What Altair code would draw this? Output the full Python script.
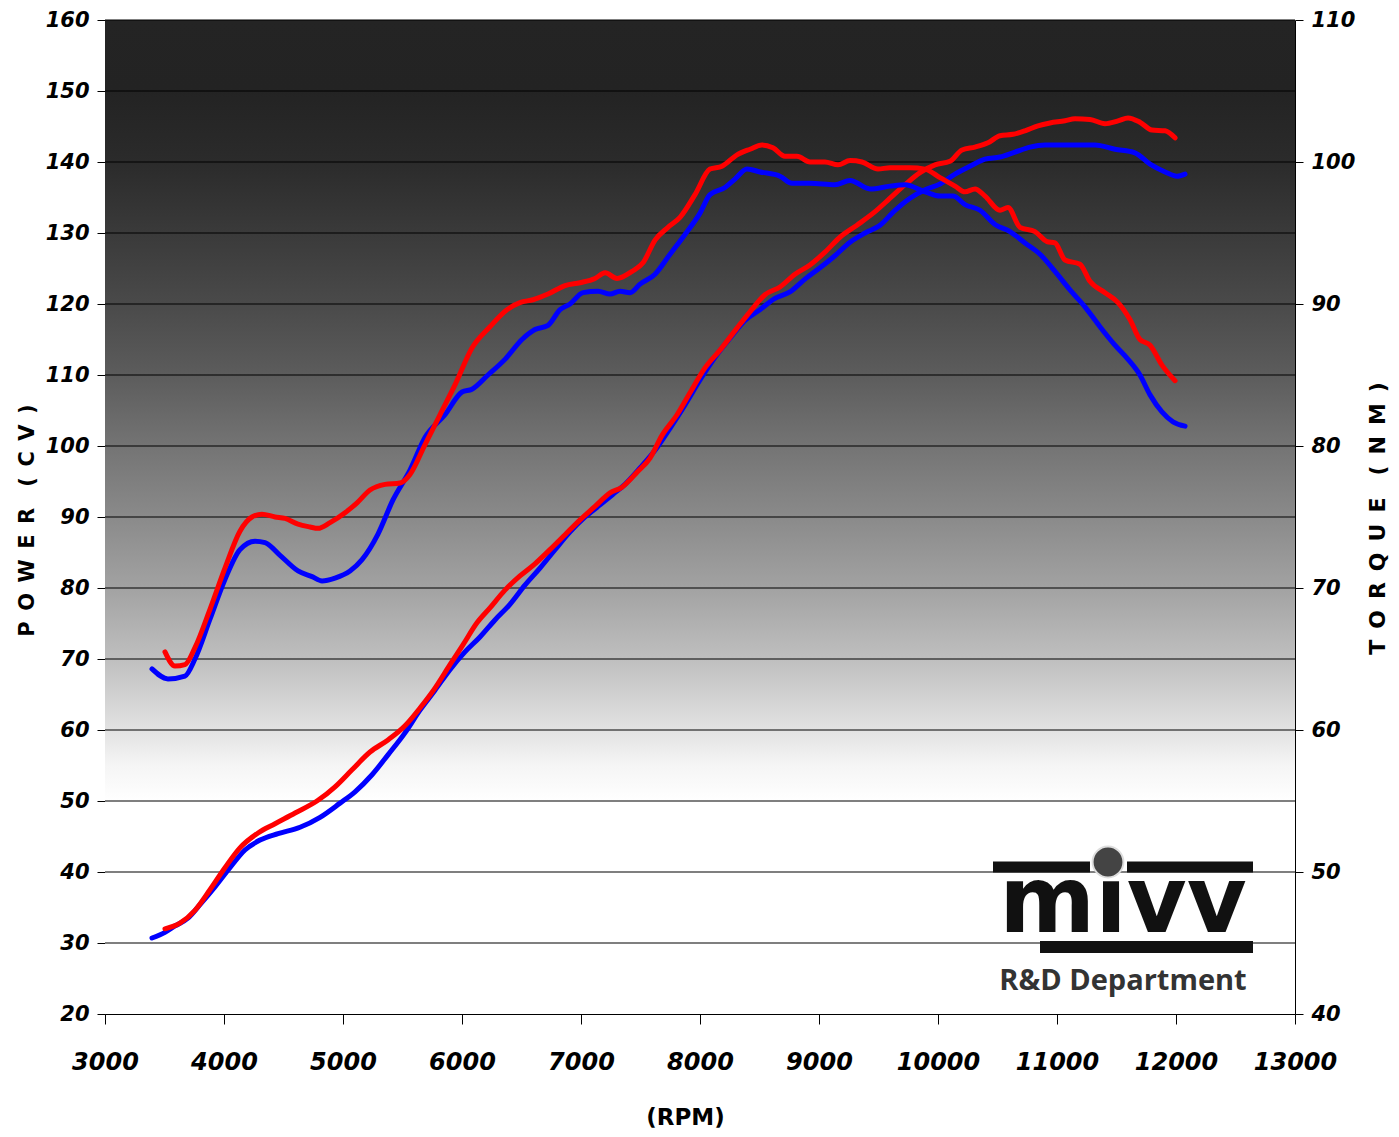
import altair as alt
import pandas as pd

# ---------------- data ----------------
# Torque, blue run (Nm)
tq_blue_rpm = [3395, 3529, 3672, 3756, 3882, 4008, 4134, 4261, 4345, 4471, 4622, 4740, 4824, 4933,
               5059, 5160, 5294, 5420, 5563, 5689, 5857, 6000, 6084, 6218, 6361, 6504, 6613, 6723,
               6824, 6908, 7017, 7143, 7244, 7328, 7412, 7496, 7622, 7748, 7874, 8000, 8084, 8210,
               8294, 8395, 8504, 8672, 8773, 8924, 9134, 9261, 9429, 9597, 9723, 9891, 10017, 10126,
               10227, 10353, 10479, 10605, 10731, 10857, 10983, 11109, 11235, 11361, 11487, 11597,
               11697, 11782, 11882, 11975, 12076]
tq_blue_nm = [64.3, 63.6, 63.8, 65.0, 67.8, 70.6, 72.7, 73.3, 73.2, 72.3, 71.2, 70.8, 70.5, 70.7,
              71.2, 72.0, 73.8, 76.2, 78.3, 80.6, 82.2, 83.8, 84.0, 85.0, 86.1, 87.5, 88.2, 88.5,
              89.6, 90.0, 90.8, 90.9, 90.7, 90.9, 90.8, 91.4, 92.1, 93.5, 94.9, 96.4, 97.7, 98.2,
              98.8, 99.5, 99.3, 99.0, 98.5, 98.5, 98.4, 98.7, 98.1, 98.3, 98.4, 97.9, 97.6, 97.6,
              97.0, 96.6, 95.6, 95.1, 94.3, 93.5, 92.3, 91.0, 89.8, 88.4, 87.1, 86.1,
              85.0, 83.6, 82.4, 81.7, 81.4]

# Torque, red run (Nm)
tq_red_rpm = [3504, 3588, 3672, 3756, 3882, 4008, 4134, 4235, 4319, 4429, 4513, 4622, 4723, 4790,
              4891, 5017, 5118, 5227, 5353, 5479, 5563, 5689, 5815, 5941, 6084, 6235, 6378, 6487,
              6597, 6723, 6866, 6992, 7118, 7202, 7303, 7429, 7521, 7622, 7731, 7832, 7958, 8084,
              8185, 8311, 8420, 8521, 8613, 8714, 8815, 8924, 9050, 9160, 9261, 9361, 9496, 9597,
              9765, 9891, 10017, 10143, 10227, 10311, 10395, 10521, 10588, 10689, 10815, 10916,
              10983, 11067, 11193, 11277, 11403, 11513, 11613, 11697, 11782, 11882, 11992]
tq_red_nm = [65.5, 64.5, 64.6, 65.8, 68.5, 71.4, 74.0, 75.0, 75.2, 75.0, 74.9, 74.5, 74.3, 74.2,
             74.6, 75.3, 76.0, 76.9, 77.3, 77.4, 78.0, 80.1, 82.2, 84.3, 86.9, 88.4, 89.6, 90.1,
             90.3, 90.7, 91.3, 91.5, 91.8, 92.2, 91.8, 92.3, 92.9, 94.5, 95.4, 96.1, 97.7, 99.5,
             99.7, 100.5, 100.9, 101.2, 101.0, 100.4, 100.4, 100.0, 100.0, 99.8, 100.1, 100.0, 99.5, 99.6,
             99.6, 99.5, 98.9, 98.3, 97.9, 98.1, 97.6, 96.6, 96.8, 95.4, 95.1, 94.4,
             94.3, 93.1, 92.8, 91.6, 90.8, 90.1, 88.9, 87.5, 87.1, 85.7, 84.6]

# Power, blue run (CV)
pw_blue_rpm = [3395, 3504, 3588, 3697, 3798, 3924, 4050, 4176, 4303, 4454, 4639, 4807, 4975, 5101,
               5244, 5378, 5521, 5647, 5773, 5899, 6025, 6151, 6277, 6403, 6529, 6655, 6782, 6908,
               7034, 7160, 7269, 7370, 7496, 7622, 7748, 7874, 8000, 8126, 8252, 8378, 8504, 8630,
               8756, 8882, 9008, 9134, 9261, 9387, 9513, 9639, 9765, 9891, 10017, 10143, 10269,
               10395, 10521, 10647, 10773, 10899, 11109, 11319, 11487, 11655, 11782, 11908, 12008, 12076]
pw_blue_cv = [30.7, 31.5, 32.4, 33.5, 35.4, 37.9, 40.6, 43.1, 44.5, 45.4, 46.3, 47.7, 49.7, 51.3,
              53.7, 56.5, 59.6, 62.8, 65.6, 68.5, 71.0, 73.1, 75.5, 77.7, 80.4, 82.8, 85.4, 87.9,
              90.0, 91.7, 93.2, 94.6, 96.9, 99.4, 102.5, 105.8, 109.3, 112.5, 115.2, 117.7, 119.2, 120.8,
              121.7, 123.5, 125.1, 126.8, 128.7, 130.0, 131.1, 133.2, 134.9, 136.1, 136.9, 138.3, 139.4,
              140.4, 140.7, 141.4, 142.1, 142.4, 142.4, 142.4, 141.8, 141.3, 139.7, 138.6, 138.0, 138.3]

# Power, red run (CV)
pw_red_rpm = [3504, 3630, 3756, 3882, 4008, 4134, 4286, 4429, 4597, 4790, 4933, 5076, 5227, 5378,
              5521, 5647, 5773, 5899, 6008, 6126, 6235, 6361, 6487, 6613, 6739, 6866, 6992, 7118,
              7244, 7345, 7471, 7580, 7681, 7807, 7916, 8042, 8168, 8311, 8420, 8546, 8672, 8798,
              8924, 9050, 9176, 9319, 9471, 9597, 9723, 9849, 9975, 10101, 10202, 10311, 10420,
              10521, 10630, 10731, 10840, 10941, 11067, 11151, 11277, 11403, 11513, 11597, 11697,
              11798, 11908, 11992]
pw_red_cv = [32.0, 32.8, 34.6, 37.5, 40.6, 43.4, 45.5, 46.8, 48.3, 50.1, 52.0, 54.4, 56.9, 58.6,
             60.6, 63.1, 65.9, 69.2, 72.0, 75.1, 77.2, 79.7, 81.7, 83.4, 85.4, 87.5, 89.6, 91.5,
             93.4, 94.2, 96.3, 98.3, 101.5, 104.4, 107.5, 111.0, 113.5, 116.6, 118.9, 121.3, 122.4, 124.2,
             125.5, 127.3, 129.4, 131.1, 133.0, 134.9, 136.8, 138.5, 139.6, 140.1, 141.7, 142.1, 142.7,
             143.7, 143.9, 144.4, 145.1, 145.5, 145.8, 146.1, 146.0, 145.4, 145.8, 146.2, 145.6,
             144.5, 144.4, 143.4]

rpm_ticks = list(range(3000, 13001, 1000))
power_ticks = list(range(20, 161, 10))
torque_ticks = list(range(40, 111, 10))
grid_lines = list(range(30, 161, 10))

series_names = ["Stock", "MIVV"]
series_colors = ["#0000ff", "#ff0000"]

# ---------------- tables ----------------
power_df = pd.concat([
    pd.DataFrame({"rpm": pw_blue_rpm, "power": pw_blue_cv, "run": "Stock", "curve": "power"}),
    pd.DataFrame({"rpm": pw_red_rpm, "power": pw_red_cv, "run": "MIVV", "curve": "power"}),
], ignore_index=True)
torque_df = pd.concat([
    pd.DataFrame({"rpm": tq_blue_rpm, "torque": tq_blue_nm, "run": "Stock", "curve": "torque"}),
    pd.DataFrame({"rpm": tq_red_rpm, "torque": tq_red_nm, "run": "MIVV", "curve": "torque"}),
], ignore_index=True)

W, H = 1190, 994
LABEL_FONT = "DejaVu Sans"
SP = "\u2002"

x_scale = alt.Scale(domain=[3000, 13000], nice=False, zero=False)
y_left = alt.Scale(domain=[20, 160], nice=False, zero=False)
y_right = alt.Scale(domain=[40, 110], nice=False, zero=False)
color = alt.Color("run:N", scale=alt.Scale(domain=series_names, range=series_colors), legend=None)

x_axis = alt.Axis(values=rpm_ticks, format="d", grid=False, tickSize=10, labelPadding=26,
                  labelFont=LABEL_FONT, labelFontSize=24, labelFontStyle="italic",
                  labelFontWeight="bold", labelColor="#000", domainColor="#000", tickColor="#000",
                  title="(RPM)", titleFont=LABEL_FONT, titleFontSize=23, titleFontWeight="bold",
                  titleColor="#000", titleX=580, titleY=103, titleBaseline="middle",
                  titleAlign="center", labelFlush=False)

left_axis = alt.Axis(values=power_ticks, grid=False, tickSize=8, labelPadding=8,
                     labelFont=LABEL_FONT, labelFontSize=21, labelFontStyle="italic",
                     labelFontWeight="bold", labelColor="#000", domainColor="#000", tickColor="#000",
                     title=SP.join("POWER") + SP * 2 + SP.join("(CV)"), titleFont=LABEL_FONT,
                     titleFontSize=21, titleFontWeight="bold", titleColor="#000", titleAngle=270,
                     titleX=-78, titleY=500, titleBaseline="middle", titleAlign="center")

right_axis = alt.Axis(values=torque_ticks, orient="right", grid=False, tickSize=8, labelPadding=8,
                      labelFont=LABEL_FONT, labelFontSize=21, labelFontStyle="italic",
                      labelFontWeight="bold", labelColor="#000", domainColor="#000", tickColor="#000",
                      title=SP.join("TORQUE") + SP * 2 + SP.join("(NM)"), titleFont=LABEL_FONT,
                      titleFontSize=22, titleFontWeight="bold", titleColor="#000", titleAngle=270,
                      titleX=82, titleY=498, titleBaseline="middle", titleAlign="center")

# ---------------- background gradient ----------------
bg_df = pd.DataFrame({"x0": [3000], "x1": [13000], "y0": [20], "y1": [160]})
gradient = alt.Gradient(
    gradient="linear", x1=0, y1=0, x2=0, y2=1,
    stops=[
        alt.GradientStop(offset=0.0, color="#242424"),
        alt.GradientStop(offset=0.07, color="#232323"),
        alt.GradientStop(offset=0.143, color="#2b2b2b"),
        alt.GradientStop(offset=0.214, color="#3a3a3a"),
        alt.GradientStop(offset=0.286, color="#4a4a4a"),
        alt.GradientStop(offset=0.357, color="#5c5c5c"),
        alt.GradientStop(offset=0.429, color="#747474"),
        alt.GradientStop(offset=0.5, color="#8a8a8a"),
        alt.GradientStop(offset=0.571, color="#a2a2a2"),
        alt.GradientStop(offset=0.643, color="#bfbfbf"),
        alt.GradientStop(offset=0.714, color="#e2e2e2"),
        alt.GradientStop(offset=0.75, color="#f5f5f5"),
        alt.GradientStop(offset=0.786, color="#ffffff"),
        alt.GradientStop(offset=1.0, color="#ffffff"),
    ],
)
bg = alt.Chart(bg_df).mark_rect(fill=gradient, stroke=None).encode(
    x=alt.X("x0:Q", scale=x_scale, axis=x_axis),
    x2="x1:Q",
    y=alt.Y("y0:Q", scale=y_left, axis=left_axis),
    y2="y1:Q",
)

grid = alt.Chart(pd.DataFrame({"g": grid_lines})).mark_rule(color="#000", strokeWidth=1.2).encode(
    y=alt.Y("g:Q", scale=y_left, axis=left_axis),
)

power_lines = alt.Chart(power_df).mark_line(strokeWidth=5, interpolate="monotone", strokeCap="round").encode(
    x=alt.X("rpm:Q", scale=x_scale, axis=x_axis),
    y=alt.Y("power:Q", scale=y_left, axis=left_axis),
    color=color,
    detail="curve:N",
)

left_layer = alt.layer(bg, grid, power_lines)

torque_lines = alt.Chart(torque_df).mark_line(strokeWidth=5, interpolate="monotone", strokeCap="round").encode(
    x=alt.X("rpm:Q", scale=x_scale, axis=x_axis),
    y=alt.Y("torque:Q", scale=y_right, axis=right_axis),
    color=color,
    detail="curve:N",
)

# ---------------- logo (decoration) ----------------
one = pd.DataFrame({"k": [0]})
logo_bar_top_l = alt.Chart(one).mark_rule(color="#111", strokeWidth=11).encode(
    x=alt.value(888), x2=alt.value(985), y=alt.value(847))
logo_bar_top_r = alt.Chart(one).mark_rule(color="#111", strokeWidth=11).encode(
    x=alt.value(1022), x2=alt.value(1148), y=alt.value(847))
logo_ball = alt.Chart(one).mark_point(filled=True, shape="circle", color="#444", opacity=1,
                                      stroke="#ddd", strokeWidth=2).encode(
    x=alt.value(1003), y=alt.value(842), size=alt.value(950))
logo_bar_bot = alt.Chart(one).mark_rule(color="#111", strokeWidth=12).encode(
    x=alt.value(935), x2=alt.value(1148), y=alt.value(927))
logo_letters = alt.Chart(one).mark_text(font=LABEL_FONT, fontSize=92, fontWeight=900, color="#111",
                                        align="center", baseline="alphabetic").encode(
    x=alt.value(1018), y=alt.value(912), text=alt.value("mıvv"))
logo_text = alt.Chart(one).mark_text(font="Open Sans", fontSize=29, fontWeight="bold", color="#333",
                                     align="center", baseline="alphabetic").encode(
    x=alt.value(1018), y=alt.value(970), text=alt.value("R&D Department"))

chart = alt.layer(
    left_layer, torque_lines,
    logo_bar_top_l, logo_bar_top_r, logo_bar_bot, logo_letters, logo_ball, logo_text,
).resolve_scale(y="independent").properties(
    width=W, height=H,
    autosize=alt.AutoSizeParams(type="none"),
    padding={"left": 97, "top": 12, "right": 96, "bottom": 115},
    background="#ffffff",
).configure_view(stroke=None)

chart.save("out.html", embed_options={"renderer": "svg", "actions": False})
